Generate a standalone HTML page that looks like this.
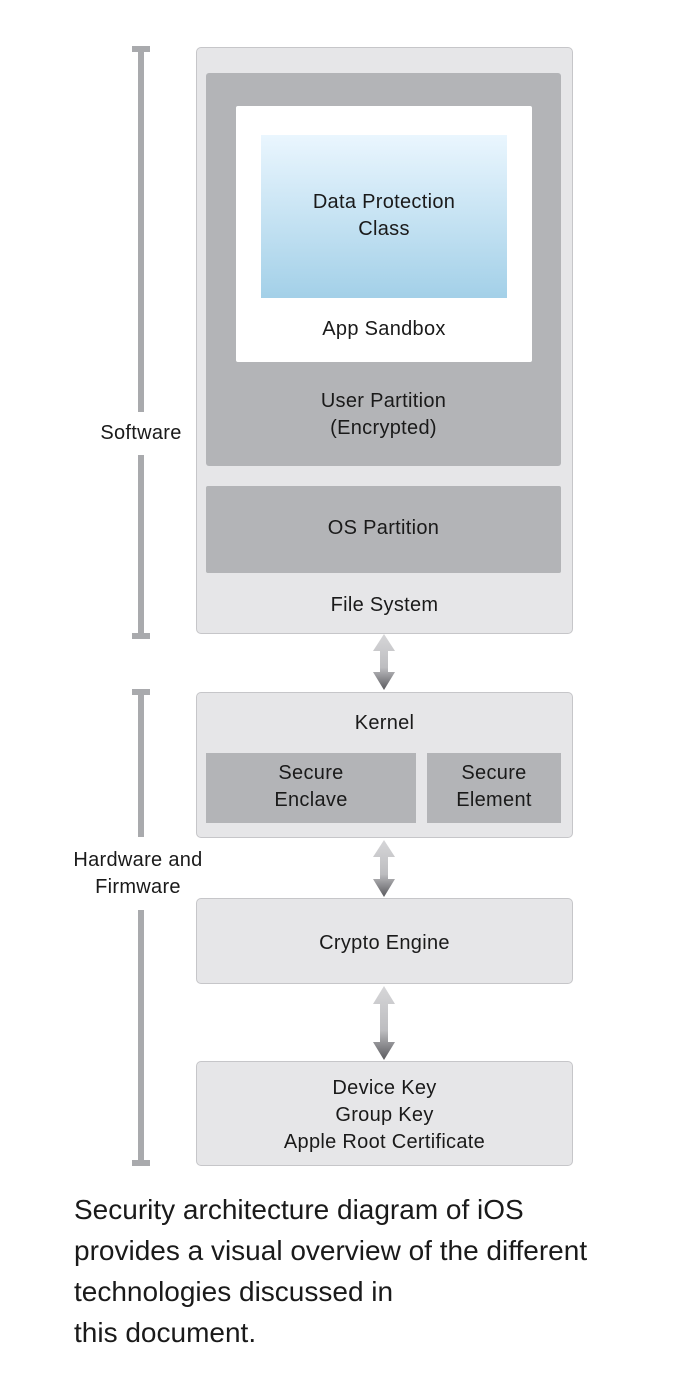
<!DOCTYPE html>
<html><head><style>
body{margin:0;width:674px;height:1376px;background:#fff;position:relative;font-family:"Liberation Sans",sans-serif;color:#1a1a1a;overflow:hidden}
.a{position:absolute;box-sizing:border-box}
.t{position:absolute;text-align:center;font-size:20px;line-height:27px;letter-spacing:0.3px}
.box{background:#e6e6e8;border:1.5px solid #c6c6c9;border-radius:5px}
.dk{background:#b3b4b7}
</style></head><body>
<div class="a" style="left:132px;top:46px;width:18px;height:6px;background:#a9aaad"></div>
<div class="a" style="left:138px;top:46px;width:6px;height:366px;background:#a9aaad"></div>
<div class="a" style="left:138px;top:455px;width:6px;height:183px;background:#a9aaad"></div>
<div class="a" style="left:132px;top:633px;width:18px;height:6px;background:#a9aaad"></div>
<div class="t" style="left:80px;top:420px;width:122px">Software</div>

<div class="a" style="left:132px;top:689px;width:18px;height:6px;background:#a9aaad"></div>
<div class="a" style="left:138px;top:689px;width:6px;height:148px;background:#a9aaad"></div>
<div class="a" style="left:138px;top:910px;width:6px;height:256px;background:#a9aaad"></div>
<div class="a" style="left:132px;top:1160px;width:18px;height:6px;background:#a9aaad"></div>
<div class="t" style="left:58px;top:847px;width:160px">Hardware and<br>Firmware</div>

<div class="a box" style="left:196px;top:47px;width:377px;height:587px"></div>
<div class="a dk" style="left:206px;top:73px;width:355px;height:393px;border-radius:3px"></div>
<div class="a" style="left:236px;top:106px;width:296px;height:256px;background:#fff;border-radius:2px"></div>
<div class="a" style="left:261px;top:135px;width:246px;height:163px;background:linear-gradient(#eaf6fe,#a3d0e8)"></div>
<div class="t" style="left:261px;top:189px;width:246px">Data Protection<br>Class</div>
<div class="t" style="left:236px;top:316px;width:296px">App Sandbox</div>
<div class="t" style="left:206px;top:388px;width:355px">User Partition<br>(Encrypted)</div>
<div class="a dk" style="left:206px;top:486px;width:355px;height:87px;border-radius:2px"></div>
<div class="t" style="left:206px;top:515px;width:355px">OS Partition</div>
<div class="t" style="left:196px;top:592px;width:377px">File System</div>

<svg class="a" style="left:0;top:0" width="674" height="1376">
<defs><linearGradient id="g" x1="0" y1="0" x2="0" y2="1"><stop offset="0" stop-color="#d6d6d8"/><stop offset="0.6" stop-color="#bdbdc0"/><stop offset="1" stop-color="#5a5a5e"/></linearGradient></defs>
<path d="M384 634 L395 651 L388 651 L388 672 L395 672 L384 690 L373 672 L380 672 L380 651 L373 651 Z" fill="url(#g)"/>
<path d="M384 840 L395 857 L388 857 L388 879 L395 879 L384 897 L373 879 L380 879 L380 857 L373 857 Z" fill="url(#g)"/>
<path d="M384 986 L395 1004 L388 1004 L388 1042 L395 1042 L384 1060 L373 1042 L380 1042 L380 1004 L373 1004 Z" fill="url(#g)"/>
</svg>

<div class="a box" style="left:196px;top:692px;width:377px;height:146px"></div>
<div class="t" style="left:196px;top:710px;width:377px">Kernel</div>
<div class="a dk" style="left:206px;top:753px;width:210px;height:70px"></div>
<div class="t" style="left:206px;top:760px;width:210px">Secure<br>Enclave</div>
<div class="a dk" style="left:427px;top:753px;width:134px;height:70px"></div>
<div class="t" style="left:427px;top:760px;width:134px">Secure<br>Element</div>

<div class="a box" style="left:196px;top:898px;width:377px;height:86px"></div>
<div class="t" style="left:196px;top:930px;width:377px">Crypto Engine</div>

<div class="a box" style="left:196px;top:1061px;width:377px;height:105px"></div>
<div class="t" style="left:196px;top:1075px;width:377px">Device Key<br>Group Key<br>Apple Root Certificate</div>

<div class="a" style="left:74px;top:1189px;width:600px;font-size:28px;line-height:41px">Security architecture diagram of iOS<br>provides a visual overview of the different<br>technologies discussed in<br>this document.</div>
</body></html>
